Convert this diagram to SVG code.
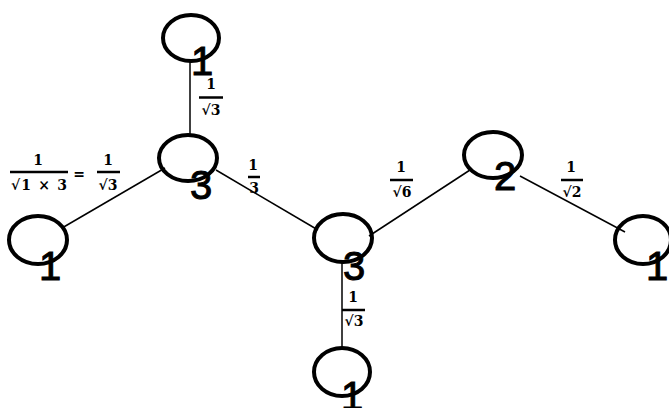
<svg xmlns="http://www.w3.org/2000/svg" width="669" height="408" viewBox="0 0 669 408">
<style>
.n{fill:none;stroke:#000;stroke-width:4}
.t{font-family:"Liberation Sans","DejaVu Sans",sans-serif;font-size:40px;fill:#000;stroke:#000;stroke-width:1;text-anchor:middle}
.e{stroke:#000;stroke-width:1.5;fill:none}
.f{font-family:"DejaVu Serif","Liberation Serif",serif;font-weight:bold;font-size:14px;fill:#000;text-anchor:middle}
.b{stroke:#000;stroke-width:2.5}
</style>
<rect width="669" height="408" fill="#fff"/>
<g id="edges">
<line class="e" x1="190" y1="61" x2="190" y2="135"/>
<line class="e" x1="165" y1="168" x2="62" y2="228"/>
<line class="e" x1="216" y1="170" x2="318" y2="230"/>
<line class="e" x1="369" y1="236" x2="470" y2="170"/>
<line class="e" x1="520" y1="176" x2="625" y2="232"/>
<line class="e" x1="342" y1="262" x2="342" y2="348"/>
</g>
<g id="labels">
<text class="f" x="211" y="89">1</text><line class="b" x1="199" y1="97.5" x2="223" y2="97.5"/><text class="f" x="211" y="115">√3</text>
<text class="f" x="253" y="170">1</text><line class="b" x1="248" y1="177" x2="260" y2="177"/><text class="f" x="254" y="193">3</text>
<text class="f" x="38" y="165">1</text><line class="b" x1="10" y1="172" x2="68" y2="172"/><text class="f" x="39" y="190" textLength="56" lengthAdjust="spacing">√1 × 3</text>
<text class="f" x="79" y="179" font-size="16">=</text>
<text class="f" x="108" y="165">1</text><line class="b" x1="97" y1="172" x2="120" y2="172"/><text class="f" x="108" y="190">√3</text>
<text class="f" x="401" y="172">1</text><line class="b" x1="390" y1="180" x2="413" y2="180"/><text class="f" x="402" y="197">√6</text>
<text class="f" x="571" y="172">1</text><line class="b" x1="561" y1="180" x2="583" y2="180"/><text class="f" x="572" y="197">√2</text>
<text class="f" x="353" y="302">1</text><line class="b" x1="342" y1="310" x2="365" y2="310"/><text class="f" x="354" y="326">√3</text>
</g>
<g id="n1top"><ellipse class="n" cx="191" cy="38" rx="28" ry="23"/><text class="t" x="202" y="75">1</text></g>
<g id="n3a"><ellipse class="n" cx="188" cy="158" rx="29" ry="23"/><text class="t" x="201" y="199">3</text></g>
<g id="n1left"><ellipse class="n" cx="38" cy="240" rx="29" ry="24"/><text class="t" x="50" y="280">1</text></g>
<g id="n3b"><ellipse class="n" cx="343" cy="238" rx="29" ry="24"/><text class="t" x="354" y="280">3</text></g>
<g id="n2"><ellipse class="n" cx="493" cy="155" rx="29" ry="23"/><text class="t" x="505" y="190">2</text></g>
<g id="n1right"><ellipse class="n" cx="643" cy="240" rx="28" ry="24"/><text class="t" x="657" y="280">1</text></g>
<g id="n1bot"><ellipse class="n" cx="342" cy="372" rx="28" ry="24"/><text class="t" x="352" y="410">1</text></g>
</svg>
